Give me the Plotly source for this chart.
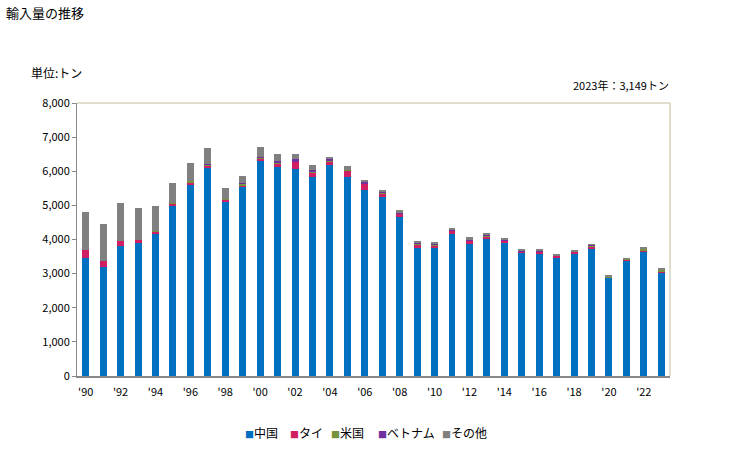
import plotly.graph_objects as go

years = list(range(1990, 2024))
china = [3470, 3180, 3820, 3900, 4175, 5000, 5600, 6110, 5115, 5525, 6290,
         6130, 6075, 5820, 6170, 5840, 5465, 5250, 4645, 3765, 3765,
         4175, 3880, 4020, 3900, 3590, 3590, 3470, 3590, 3725, 2885,
         3385, 3655, 3020]
thai = [225, 195, 140, 90, 60, 55, 60, 60, 50, 60, 80,
        100, 215, 135, 115, 175, 180, 100, 120, 90, 70,
        90, 90, 70, 70, 60, 55, 50, 55, 60, 5,
        40, 20, 30]
usa = [5, 5, 5, 10, 5, 10, 40, 20, 10, 50, 30,
       30, 10, 50, 30, 30, 10, 20, 5, 30, 5,
       5, 10, 30, 5, 5, 5, 5, 5, 50, 20,
       5, 50, 85]
vietnam = [0, 0, 0, 0, 0, 0, 0, 20, 0, 30, 30,
           30, 50, 40, 30, 5, 20, 40, 30, 25, 30,
           30, 20, 20, 30, 20, 20, 5, 5, 5, 0,
           0, 0, 0]
other = [1115, 1085, 1115, 930, 750, 600, 550, 470, 340, 200, 290,
         225, 165, 145, 80, 90, 80, 50, 50, 20, 40,
         30, 60, 65, 30, 30, 30, 30, 30, 20, 30,
         20, 40, 14]

series = [("中国", china, "#0070C0"),
          ("タイ", thai, "#D01F63"),
          ("米国", usa, "#77933C"),
          ("ベトナム", vietnam, "#7030A0"),
          ("その他", other, "#808080")]

tick_years = list(range(1990, 2024, 2))
tick_text = ["'" + str(y)[2:] for y in tick_years]

font_family = "Noto Sans CJK JP"

L, R, T, B = 77, 59, 103, 74
W, H = 729, 450
PW = W - L - R
PH = H - T - B


def px_x(p):
    return (p - L) / PW


def px_y(p):
    return (H - B - p) / PH


fig = go.Figure()
for name, vals, color in series:
    fig.add_trace(go.Bar(x=years, y=vals, name=name, marker_color=color,
                         marker_line_width=0, showlegend=False))

fig.update_layout(
    barmode="stack",
    bargap=0.6,
    width=W, height=H,
    margin=dict(l=L, r=R, t=T, b=B),
    plot_bgcolor="white", paper_bgcolor="white",
    font=dict(family=font_family, size=11, color="#000000"),
    showlegend=False,
    xaxis=dict(tickmode="array", tickvals=tick_years, ticktext=tick_text,
               range=[1989.5, 2023.5], showline=True, linecolor="#888888",
               linewidth=2, ticks="", showgrid=False, tickfont=dict(size=11),
               ticklabelstandoff=5),
    yaxis=dict(range=[0, 8000], dtick=1000, tickformat=",d", showline=True,
               linecolor="#888888", linewidth=1, ticks="outside", ticklen=4,
               tickcolor="#888888", showgrid=False, tickfont=dict(size=11)),
)

# top and right frame lines (beige)
fig.add_shape(type="line", xref="paper", yref="paper", x0=0, x1=1, y0=1, y1=1,
              line=dict(color="#C4BC9C", width=1))
fig.add_shape(type="line", xref="paper", yref="paper", x0=1, x1=1, y0=0, y1=1,
              line=dict(color="#C4BC9C", width=1))

fig.add_annotation(text="輸入量の推移", xref="paper", yref="paper",
                   x=px_x(4), y=px_y(12), xanchor="left", yanchor="middle",
                   showarrow=False, font=dict(size=13))
fig.add_annotation(text="単位:トン", xref="paper", yref="paper",
                   x=px_x(29), y=px_y(73), xanchor="left", yanchor="middle",
                   showarrow=False, font=dict(size=12))
fig.add_annotation(text="2023年：3,149トン", xref="paper", yref="paper",
                   x=px_x(671), y=px_y(85), xanchor="right", yanchor="middle",
                   showarrow=False, font=dict(size=11))

# legend drawn as text entries
legend_x = [243, 288, 329, 376, 440]
for (name, vals, color), lx in zip(series, legend_x):
    fig.add_annotation(
        text=f'<span style="color:{color};font-size:9px">■</span>{name}',
        xref="paper", yref="paper", x=px_x(lx), y=px_y(432),
        xanchor="left", yanchor="middle", showarrow=False,
        font=dict(size=12))

fig.write_html("out.html")
